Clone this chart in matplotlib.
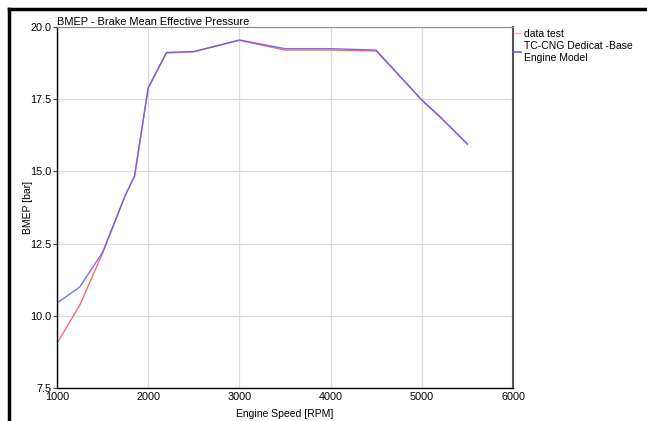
import matplotlib.pyplot as plt
from matplotlib.lines import Line2D

plt.rcParams['font.family'] = ['Liberation Sans', 'DejaVu Sans']

# Datos
rpm_test = [1000, 1250, 1500, 1750, 1850, 2000, 2200, 2500, 3000, 3500, 4000, 4500, 5000, 5200, 5500]
bmep_test = [9.05, 10.37, 12.17, 14.18, 14.83, 17.88, 19.1, 19.14, 19.54, 19.2, 19.2, 19.17, 17.47, 16.9, 15.94]

rpm_model = [1000, 1250, 1500, 1750, 1850, 2000, 2200, 2500, 3000, 3500, 4000, 4500, 5000, 5200, 5500]
bmep_model = [10.44, 11.0, 12.2, 14.18, 14.83, 17.9, 19.12, 19.15, 19.55, 19.25, 19.25, 19.2, 17.47, 16.88, 15.95]

X_TICKS = [1000, 2000, 3000, 4000, 5000, 6000]
Y_TICKS = [7.5, 10.0, 12.5, 15.0, 17.5, 20.0]

fig = plt.figure(figsize=(6.47, 4.21), dpi=100)
ax = fig.add_axes([57 / 647, 1 - 388 / 421, 456 / 647, 361 / 421])

ax.plot(rpm_test, bmep_test, color='#ff6a6a', lw=1.0, label='data test')
ax.plot(rpm_model, bmep_model, color='#5a5aff', lw=1.0, alpha=0.85,
        label='TC-CNG Dedicat -Base\nEngine Model')

ax.set_xlim(1000, 6000)
ax.set_ylim(7.5, 20.0)
ax.set_xticks(X_TICKS)
ax.set_yticks(Y_TICKS)
ax.set_yticklabels([f'{v:.1f}' for v in Y_TICKS])
ax.tick_params(labelsize=7.8, length=3, width=0.8, color='#444444', pad=1)
ax.tick_params(axis='x', length=0, pad=3)
ax.grid(True, color='#dcdcdc', lw=0.9)

for side in ['left', 'bottom']:
    ax.spines[side].set_color('black')
    ax.spines[side].set_linewidth(1.0)
ax.spines['right'].set_color('#555555')
ax.spines['right'].set_linewidth(1.5)
ax.spines['top'].set_color('#888888')
ax.spines['top'].set_linewidth(0.8)

ax.set_title('BMEP - Brake Mean Effective Pressure', loc='left', fontsize=7.9, pad=1)
ax.set_xlabel('Engine Speed [RPM]', fontsize=7.5, labelpad=5)
ax.set_ylabel('BMEP [bar]', fontsize=7.5)
ax.yaxis.set_label_coords(-0.052, 0.5)

handles = [Line2D([], [], color='#ffb0b0', lw=1.0),
           Line2D([], [], color='#5a5aff', lw=1.2)]
fig.legend(handles, ['data test', 'TC-CNG Dedicat -Base\nEngine Model'],
           loc='upper left', bbox_to_anchor=(512 / 647, 1 - 27 / 421),
           frameon=False, fontsize=7.5, handlelength=0.7, handletextpad=0.3,
           labelspacing=0.2, borderaxespad=0, borderpad=0.2)

# Marco negro exterior (arriba e izquierda)
fig.add_artist(Line2D([9 / 647, 9 / 647], [0, 1 - 9 / 421], color='black', lw=2.5,
                      transform=fig.transFigure))
fig.add_artist(Line2D([9 / 647, 1], [1 - 9 / 421, 1 - 9 / 421], color='black', lw=2.5,
                      transform=fig.transFigure))

fig.savefig('out.png', dpi=100)
